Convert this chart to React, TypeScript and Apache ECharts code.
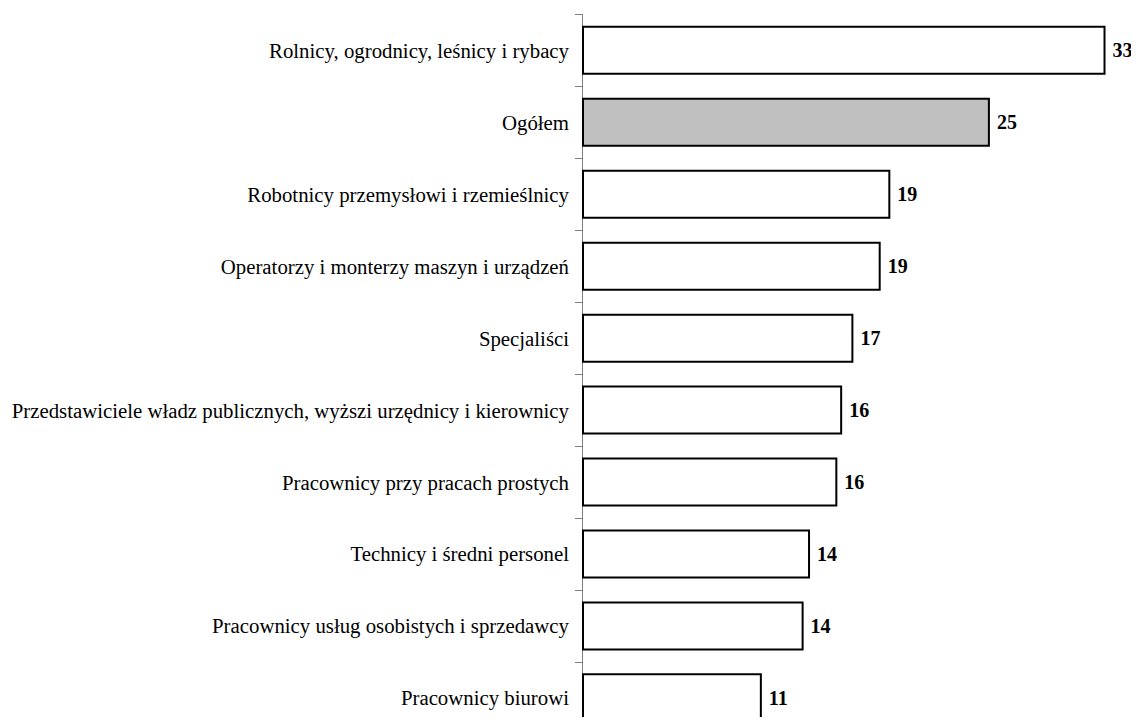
import React, { useEffect, useRef } from "react";
import * as echarts from "echarts";

const categories: string[] = [
  "Rolnicy, ogrodnicy, leśnicy i rybacy",
  "Ogółem",
  "Robotnicy przemysłowi i rzemieślnicy",
  "Operatorzy i monterzy maszyn i urządzeń",
  "Specjaliści",
  "Przedstawiciele władz publicznych, wyższi urzędnicy i kierownicy",
  "Pracownicy przy pracach prostych",
  "Technicy i średni personel",
  "Pracownicy usług osobistych i sprzedawcy",
  "Pracownicy biurowi",
];

const values: number[] = [32.6, 25.4, 19.2, 18.6, 16.9, 16.2, 15.9, 14.2, 13.8, 11.2];

const highlighted = "Ogółem";

const SERIF = "'Liberation Serif', 'DejaVu Serif', serif";

export default function App() {
  const ref = useRef<HTMLDivElement>(null);
  useEffect(() => {
    if (!ref.current) return;
    const chart = echarts.init(ref.current, undefined, { renderer: "svg" });
    chart.setOption({
      animation: false,
      backgroundColor: "#ffffff",
      grid: {
        left: 582,
        top: 14.4,
        width: 546,
        height: 719.4,
        containLabel: false,
        outerBoundsMode: "none",
      },
      xAxis: {
        type: "value",
        min: 0,
        max: 34,
        show: false,
      },
      yAxis: {
        type: "category",
        inverse: true,
        data: categories,
        axisLine: { show: true, lineStyle: { color: "#808080", width: 1 } },
        axisTick: { show: true, length: 7, lineStyle: { color: "#808080" } },
        axisLabel: {
          color: "#000",
          fontFamily: SERIF,
          fontSize: 20.8,
          margin: 13,
        },
      },
      series: [
        {
          type: "bar",
          barWidth: 49,
          data: values.map((v, i) => ({
            value: v,
            itemStyle: {
              color: categories[i] === highlighted ? "#c0c0c0" : "#ffffff",
              borderColor: "#000",
              borderWidth: 2,
            },
          })),
          label: {
            show: true,
            position: "right",
            distance: 7,
            color: "#000",
            fontFamily: SERIF,
            fontWeight: "bold",
            fontSize: 20,
            formatter: (p: any) => String(Math.round(p.value)),
          },
        },
      ],
    });
    return () => chart.dispose();
  }, []);
  return <div ref={ref} style={{ width: 1139, height: 725, margin: -8 }} />;
}
